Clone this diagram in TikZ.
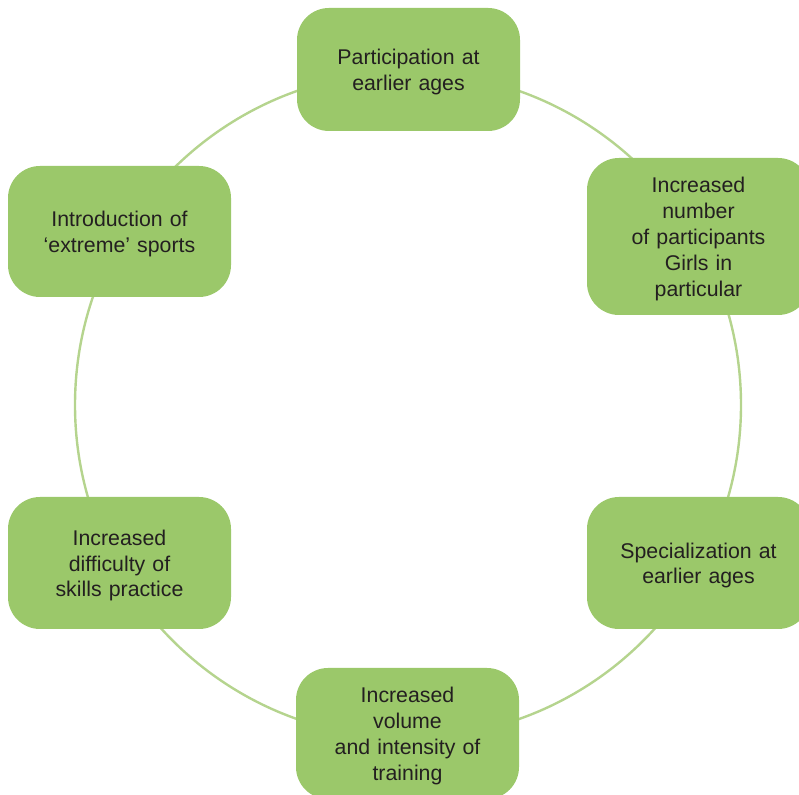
\documentclass[tikz,border=0pt]{standalone}
\usepackage{fontspec}
\setmainfont{Liberation Sans}
\definecolor{boxgreen}{HTML}{9BC86A}
\definecolor{ringgreen}{HTML}{B5D48E}
\definecolor{txt}{HTML}{231F20}
\begin{document}
\begin{tikzpicture}[x=1pt,y=1pt,
  stage/.style={rectangle, rounded corners=32pt, fill=boxgreen, draw=none,
    minimum width=223pt, text width=210pt, align=center, text=txt,
    font=\fontsize{21.3}{25.8}\selectfont, inner sep=0pt,
    execute at begin node={\rule{0pt}{20.5pt}}},
  ring/.style={draw=ringgreen, line width=2.4pt}]
\useasboundingbox (0,0) rectangle (799,794);
\coordinate (c) at (408,389);
\draw[ring] (c) circle[radius=333];
\node[stage, minimum height=123pt] (top) at (408.5,724.5) {Participation at\\earlier ages};
\node[stage, minimum height=157pt] (ru) at (698.5,557.5) {Increased\\number\\of participants\\Girls in\\particular};
\node[stage, minimum height=132pt] (rl) at (698.5,231) {Specialization at\\earlier ages};
\node[stage, minimum height=131pt] (bot) at (407.5,60.5) {Increased\\volume\\and intensity of\\training};
\node[stage, minimum height=132pt] (ll) at (119.5,231) {Increased\\difficulty of\\skills practice};
\node[stage, minimum height=131pt] (lu) at (119.5,562.5) {Introduction of\\‘extreme’ sports};
\end{tikzpicture}
\end{document}
